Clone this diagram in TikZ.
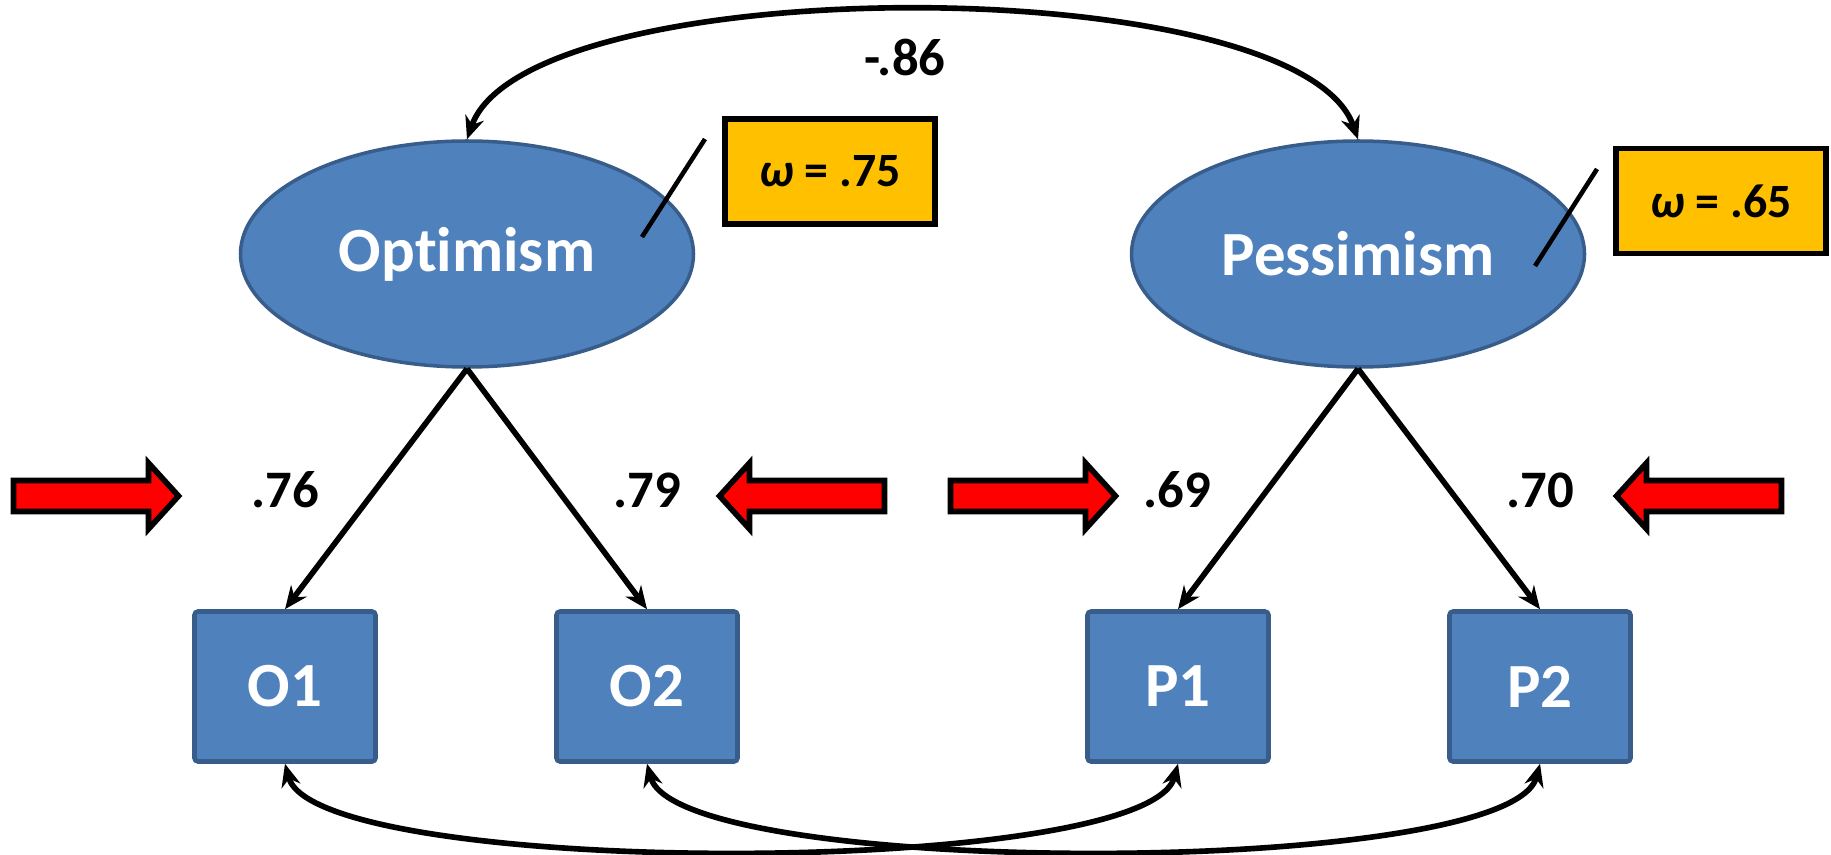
\documentclass[tikz,border=0pt]{standalone}
\usepackage{fontspec}
\setmainfont[Ligatures=NoCommon]{Carlito}
\usepackage{tikz}
\usetikzlibrary{arrows.meta, shapes.geometric}
\definecolor{semB}{RGB}{79,129,189}
\definecolor{semD}{RGB}{56,93,138}
\definecolor{semY}{RGB}{255,192,0}
\definecolor{semR}{RGB}{255,0,0}
\tikzset{latent/.style={ellipse, draw=semD, line width=1pt, fill=semB, minimum width=4.53cm,
  minimum height=2.26cm, inner sep=0pt, text=white, font=\bfseries\fontsize{17.9}{20}\selectfont},
  manifest/.style={rectangle, rounded corners=1pt, draw=semD, line width=1.3pt, fill=semB,
  minimum width=1.81cm, minimum height=1.50cm, inner sep=0pt, text=white, font=\bfseries\fontsize{17.9}{20}\selectfont},
  relbox/.style={rectangle, draw=black, line width=1.6pt, fill=semY, minimum width=2.10cm,
  minimum height=1.05cm, inner sep=0pt, font=\bfseries\fontsize{13.6}{15}\selectfont},
  coef/.style={inner sep=0pt, font=\bfseries\fontsize{15}{17}\selectfont},
  loading/.style={->, line width=1.6pt},
  cov/.style={<->, line width=1.6pt},
  tagline/.style={line width=1.3pt},
  cue/.style={fill=semR, draw=black, line width=1.6pt, line join=miter}}

\begin{document}
\begin{tikzpicture}[>={Stealth[length=6.5pt,width=5.5pt]}]
\useasboundingbox (0,0) rectangle (18.31,8.54);
% ====== latent factors ======
\node[latent] (opt) at (4.67,6.0) {Optimism};
\node[latent] (pes) at (13.58,6.0) {Pessimism};
% ====== indicators ======
\node[manifest] (o1) at (2.85,1.675) {O1};
\node[manifest] (o2) at (6.47,1.675) {O2};
\node[manifest] (p1) at (11.78,1.675) {P1};
\node[manifest] (p2) at (15.40,1.675) {P2};
% --- reliability boxes with their leaders ---
\node[relbox] (omA) at (8.30,6.825) {{\itshape ω} = .75};
\node[relbox] (omB) at (17.21,6.53) {{\itshape ω} = .65};
\coordinate (tagA) at (7.05,7.15);
\coordinate (tagAin) at (6.42,6.17);
\coordinate (tagB) at (15.97,6.85);
\coordinate (tagBin) at (15.35,5.88);
\draw[tagline] (tagA) -- (tagAin);
\draw[tagline] (tagB) -- (tagBin);
% ====== loadings ======
\draw[loading] (opt.south) -- (o1.north);
\draw[loading] (opt.south) -- (o2.north);
\draw[loading] (pes.south) -- (p1.north);
\draw[loading] (pes.south) -- (p2.north);
\node[coef] (l1) at (2.85,3.64) {.76};
\node[coef] (l2) at (6.47,3.64) {.79};
\node[coef] (l3) at (11.77,3.64) {.69};
\node[coef] (l4) at (15.40,3.64) {.70};
% ====== covariances ======
\draw[cov] (opt.north) .. controls +(0.6,1.71) and +(-0.6,1.71) .. (pes.north);
\node[coef] (rho) at (9.05,7.97) {-.86};
\draw[cov] (o1.south) .. controls +(0.31,-1.15) and +(-0.31,-1.15) .. (p1.south);
\draw[cov] (o2.south) .. controls +(0.31,-1.15) and +(-0.31,-1.15) .. (p2.south);
% ====== red pointers at the loadings ======
\foreach \tx/\dir in {0.135/1, 8.845/-1, 9.505/1, 17.815/-1}
  \draw[cue, shift={(\tx,3.58)}, xscale=\dir] (0,-0.155) -- (1.35,-0.155) -- (1.35,-0.33)
    -- (1.65,0) -- (1.35,0.33) -- (1.35,0.155) -- (0,0.155) -- cycle;
\end{tikzpicture}
\end{document}
